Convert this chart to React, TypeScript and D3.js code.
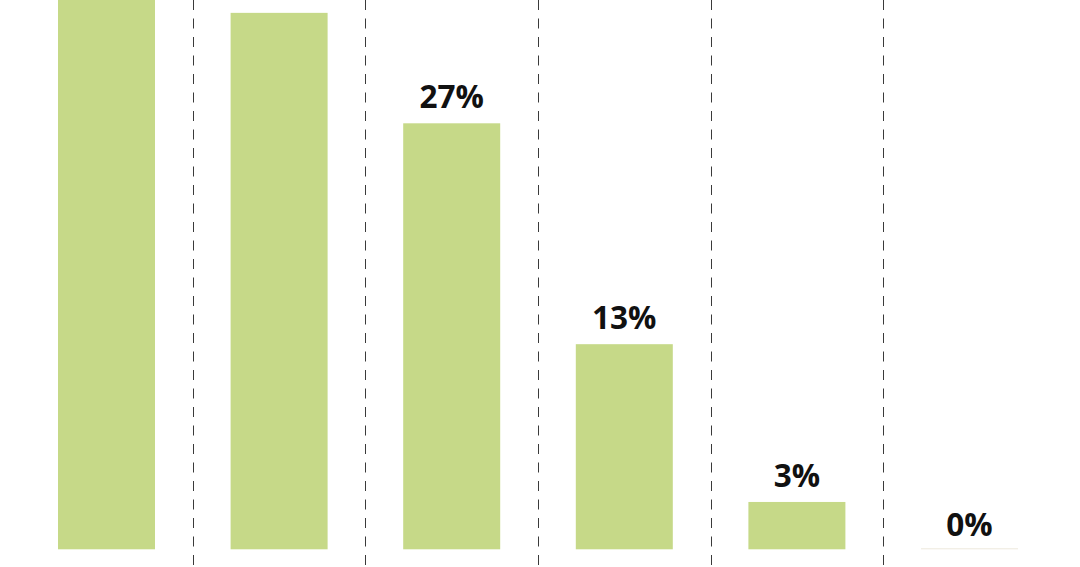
import React from "react";
import * as d3 from "d3";

const categories = ["A", "B", "C", "D", "E", "F"];
const values = [37, 34, 27, 13, 3, 0];
const labels = ["37%", "34%", "27%", "13%", "3%", "0%"];

const W = 1080;
const H = 567;

export default function App() {
  const x = d3
    .scaleBand<string>()
    .domain(categories)
    .range([20.2, 1055.8])
    .paddingInner(0.438)
    .paddingOuter(0.219);
  const y = d3.scaleLinear().domain([0, 27]).range([549.3, 123.3]);
  const bw = x.bandwidth();
  const step = x.step();
  const sep = categories.slice(0, -1).map((c) => (x(c) as number) + bw + (step - bw) / 2);

  return (
    <svg
      width={W}
      height={H}
      style={{ position: "absolute", left: 0, top: 0, background: "#fff" }}
    >
      {sep.map((sx, i) => (
        <line
          key={"s" + i}
          x1={Math.round(sx) + 0.5}
          x2={Math.round(sx) + 0.5}
          y1={0}
          y2={H}
          stroke="#3a3a3a"
          strokeWidth={1}
          strokeDasharray="10,8.5"
        />
      ))}
      {categories.map((c, i) => {
        const v = values[i];
        const top = y(v);
        const h = y(0) - top;
        return (
          <g key={c}>
            {v > 0 ? (
              <rect x={x(c)} y={top} width={bw} height={h} fill="#c6d988" />
            ) : (
              <rect x={x(c)} y={y(0) - 1} width={bw} height={1} fill="#ede9dc" />
            )}
            <text
              x={(x(c) as number) + bw / 2}
              y={top - (v > 0 ? 15 : 13)}
              textAnchor="middle"
              fontFamily="'Open Sans', sans-serif"
              fontWeight={700}
              fontSize={31.5}
              fill="#111"
            >
              {labels[i]}
            </text>
          </g>
        );
      })}
    </svg>
  );
}
